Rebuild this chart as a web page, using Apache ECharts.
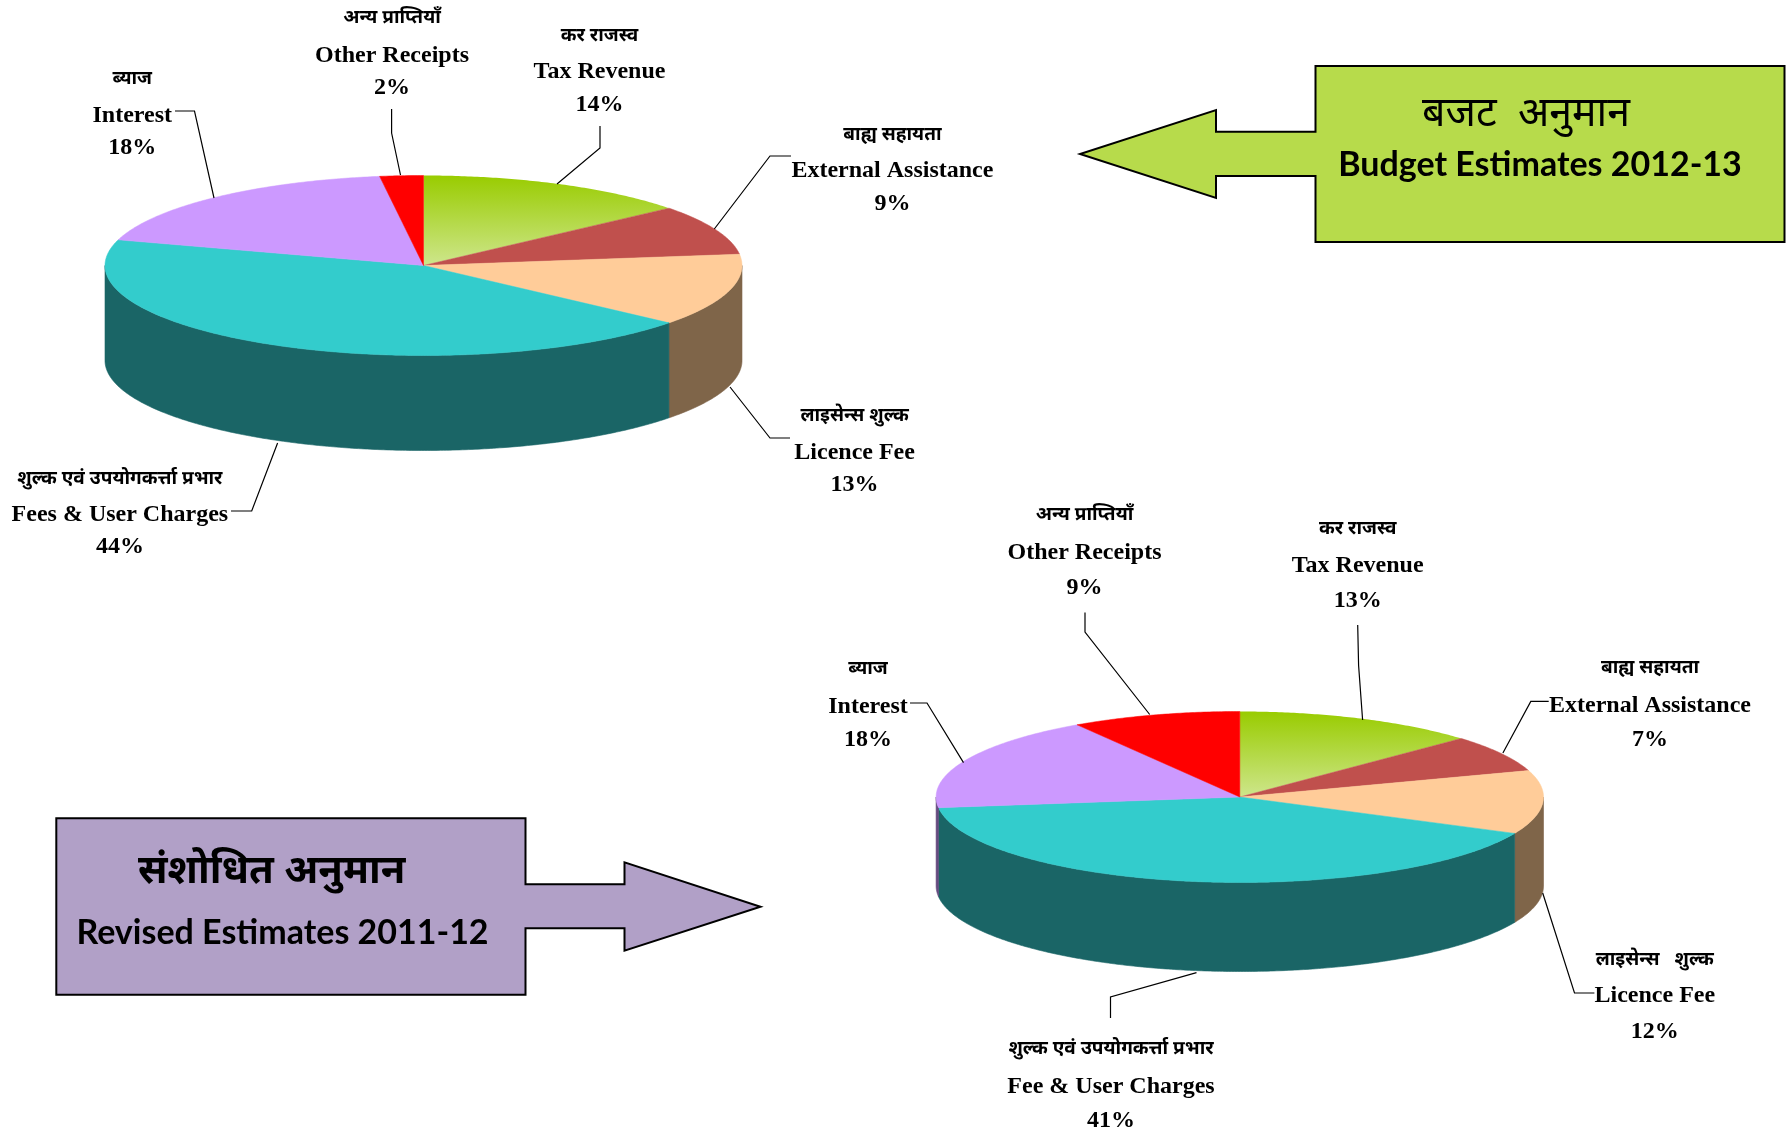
<!DOCTYPE html>
<html>
<head>
<meta charset="utf-8">
<style>html,body{margin:0;padding:0;background:#fff}#c{width:1790px;height:1128px}</style>
<script src="https://cdn.jsdelivr.net/npm/echarts@6/dist/echarts.min.js"></script>
</head>
<body>
<div id="c"></div>
<script>
// ---- data (slice sizes estimated; labels show them rounded) ----
var hindiNames = ['कर राजस्व', 'बाह्य सहायता', 'लाइसेन्स शुल्क', 'शुल्क एवं उपयोगकर्त्ता प्रभार', 'ब्याज', 'अन्य प्राप्तियॉं'];
var hindiNamesRevised = ['कर राजस्व', 'बाह्य सहायता', 'लाइसेन्स   शुल्क', 'शुल्क एवं उपयोगकर्त्ता प्रभार', 'ब्याज', 'अन्य प्राप्तियॉं'];
var englishNamesBudget = ['Tax Revenue', 'External Assistance', 'Licence Fee', 'Fees & User Charges', 'Interest', 'Other Receipts'];
var englishNamesRevised = ['Tax Revenue', 'External Assistance', 'Licence Fee', 'Fee & User Charges', 'Interest', 'Other Receipts'];
var budgetValues = [14, 9, 13, 43.6, 18.2, 2.2];
var revisedValues = [13, 7, 12, 41, 18, 9];

// ---- styles ----
var topColors = [null, '#C0504D', '#FFCC99', '#33CCCC', '#CC99FF', '#FF0000'];
var sideColors = ['#6F8A1A', '#7F3330', '#7F6549', '#1A6566', '#664C80', '#800000'];
var taxGradient = new echarts.graphic.LinearGradient(0, 0, 0, 1, [
  {offset: 0, color: '#99CC00'}, {offset: 1, color: '#CEE68C'}
]);
var serif = '"Noto Sans Devanagari","Liberation Serif",serif';

// ---- layout ----
var budgetLayout = {
  cx: 423.5, cy: 265.5, rx: 318.5, ry: 90, depth: 95,
  labels: [[599.5, 37, 72, 104.5], [892.4, 136.5, 171, 203.5], [854.6, 417.6, 453, 485], [119.9, 480, 515, 546.5], [132.3, 80, 116, 147.5], [392, 19.5, 55.5, 88]],
  leaders: [
    [[600, 126], [600, 148], [557, 184]],
    [[791, 156], [770, 156], [714.3, 229]],
    [[790, 438], [770, 438], [730, 387]],
    [[231, 511], [251.7, 511], [277.6, 443]],
    [[175, 111], [194.5, 111], [214, 198]],
    [[391.6, 109], [391.6, 133], [400.5, 175]]
  ]
};
var revisedLayout = {
  cx: 1239.8, cy: 797, rx: 303.7, ry: 85.5, depth: 89,
  labels: [[1357.7, 530, 566, 600.5], [1650, 669.5, 705.7, 739.5], [1654.8, 961, 996, 1031.5], [1111, 1050, 1087, 1120.5], [868, 670, 706.5, 740], [1084.5, 516.5, 553, 587.5]],
  leaders: [
    [[1357.7, 625], [1358.6, 665.5], [1362.6, 720]],
    [[1548.7, 701.4], [1530.8, 701.4], [1502.9, 753]],
    [[1594.4, 993], [1574.5, 993], [1542.7, 893]],
    [[1110.5, 1018], [1110.5, 997], [1196.5, 972.7]],
    [[910, 703], [927, 703], [963.5, 762.6]],
    [[1085, 612.4], [1085, 632], [1149.7, 714.5]]
  ]
};

function rim(L, a, extra) {
  return [L.cx + Math.sin(a) * L.rx, L.cy - Math.cos(a) * L.ry + (extra || 0)];
}
function arc(L, a0, a1, extra) {
  var pts = [], n = Math.max(2, Math.ceil(Math.abs(a1 - a0) / 0.01));
  for (var i = 0; i <= n; i++) pts.push(rim(L, a0 + (a1 - a0) * i / n, extra));
  return pts;
}
function sliceRows(values) {
  var total = values.reduce(function (s, v) { return s + v; }, 0), acc = 0;
  return values.map(function (v, i) {
    var start = acc / total; acc += v;
    return {value: [start, acc / total, v, i]};
  });
}
function pieSeries(values, layout, hindi, english) {
  return {
    type: 'custom', coordinateSystem: 'none', silent: true, animation: false,
    data: sliceRows(values),
    renderItem: function (params, api) {
      var a0 = api.value(0) * 2 * Math.PI, a1 = api.value(1) * 2 * Math.PI;
      var v = api.value(2), idx = api.value(3), kids = [];
      // visible outer wall: the part of the rim on the front half
      var s = Math.max(a0, Math.PI / 2), e = Math.min(a1, Math.PI * 3 / 2);
      if (e > s) {
        var upper = arc(layout, s, e, 0), lower = arc(layout, e, s, layout.depth);
        kids.push({type: 'polygon', shape: {points: upper.concat(lower)},
          style: {fill: sideColors[idx], stroke: sideColors[idx], lineWidth: 0.6}});
      }
      // top face
      var face = [[layout.cx, layout.cy]].concat(arc(layout, a0, a1, 0));
      var fill = topColors[idx] || taxGradient;
      kids.push({type: 'polygon', shape: {points: face},
        style: {fill: fill, stroke: idx === 0 ? null : fill, lineWidth: 0.5}});
      // leader
      kids.push({type: 'polyline', shape: {points: layout.leaders[idx]},
        style: {fill: null, stroke: '#000', lineWidth: 1.2}, z2: 5});
      // labels
      var p = layout.labels[idx];
      kids.push({type: 'text', z2: 6, style: {text: hindi[idx], x: p[0], y: p[1], align: 'center', verticalAlign: 'middle',
        fontFamily: serif, fontSize: 19, fontWeight: 'bold', fill: '#000'}});
      kids.push({type: 'text', z2: 6, style: {text: english[idx], x: p[0], y: p[2], align: 'center', verticalAlign: 'middle',
        fontFamily: '"Liberation Serif",serif', fontSize: 24, fontWeight: 'bold', fill: '#000'}});
      kids.push({type: 'text', z2: 6, style: {text: Math.round(v) + '%', x: p[0], y: p[3], align: 'center', verticalAlign: 'middle',
        fontFamily: '"Liberation Serif",serif', fontSize: 24, fontWeight: 'bold', fill: '#000'}});
      return {type: 'group', children: kids};
    }
  };
}
function callout(points, fill) {
  return {type: 'polygon', shape: {points: points}, style: {fill: fill, stroke: '#000', lineWidth: 2}, z: 1};
}
function boxText(text, x, y, size, bold, family, shadow) {
  var st = {text: text, x: x, y: y, align: 'center', verticalAlign: 'middle',
    fontFamily: family, fontSize: size, fontWeight: bold ? 'bold' : 'normal', fill: '#000'};
  if (shadow) { st.shadowColor = '#888'; st.shadowBlur = 1; st.shadowOffsetX = 1.5; st.shadowOffsetY = 1.5; }
  return {type: 'text', z: 2, style: st};
}

var chart = echarts.init(document.getElementById('c'), null, {renderer: 'canvas'});
chart.setOption({
  backgroundColor: '#fff',
  animation: false,
  graphic: {elements: [
    callout([[1315.5, 66], [1784.5, 66], [1784.5, 242], [1315.5, 242], [1315.5, 176], [1216, 176], [1216, 198], [1080, 154], [1216, 110], [1216, 131.7], [1315.5, 131.7]], '#B7DB4B'),
    boxText('बजट  अनुमान', 1526, 118, 41, false, '"Noto Sans Devanagari","Lato",sans-serif', false),
    boxText('Budget Estimates 2012-13', 1540, 165, 34, true, 'Lato,"Open Sans",sans-serif', true),
    callout([[56.3, 818.3], [525.5, 818.3], [525.5, 884.3], [624.5, 884.3], [624.5, 862.3], [760.5, 906.7], [624.5, 950.7], [624.5, 928.3], [525.5, 928.3], [525.5, 994.7], [56.3, 994.7]], '#B1A0C7'),
    boxText('संशोधित अनुमान', 271.7, 875.7, 40, true, '"Noto Sans Devanagari","Lato",sans-serif', true),
    boxText('Revised Estimates 2011-12', 282.5, 933, 34, true, 'Lato,"Open Sans",sans-serif', true)
  ]},
  series: [
    pieSeries(budgetValues, budgetLayout, hindiNames, englishNamesBudget),
    pieSeries(revisedValues, revisedLayout, hindiNamesRevised, englishNamesRevised)
  ]
});
</script>
</body>
</html>
